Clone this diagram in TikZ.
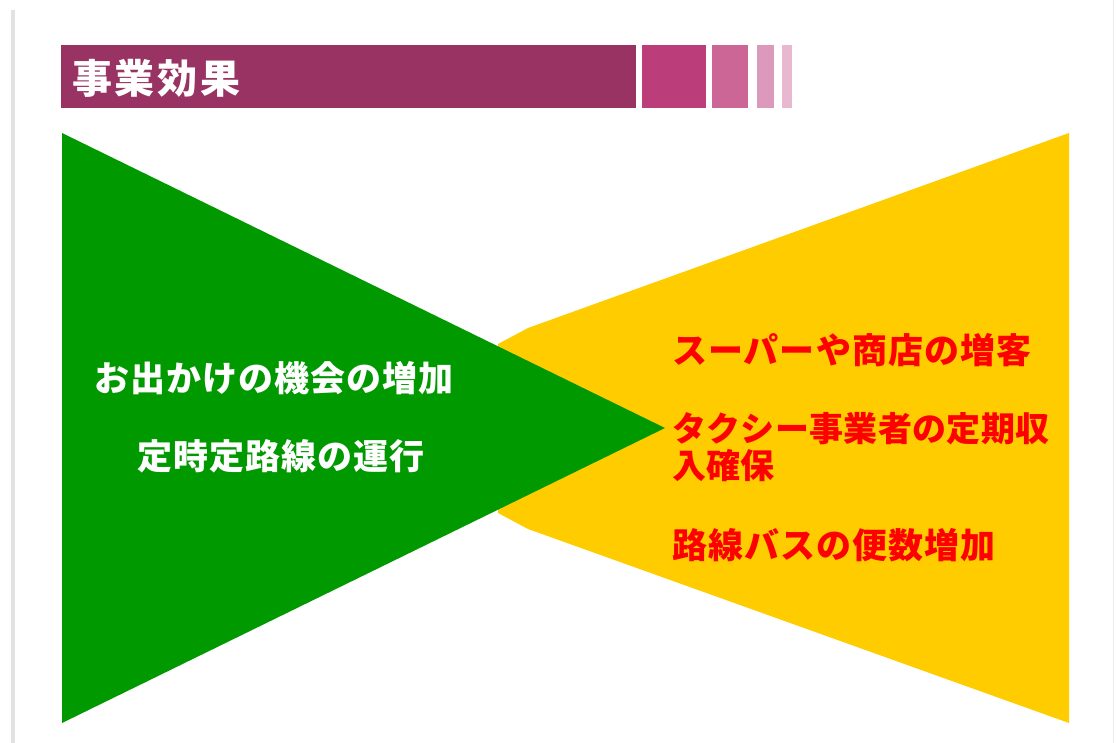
\documentclass[tikz,border=0pt]{standalone}
\usepackage{fontspec}
\newfontfamily\jp{Noto Sans CJK JP}[LetterSpace=3]
\newfontfamily\jphead{Noto Sans CJK JP}[LetterSpace=7]
\newfontfamily\jptight{Noto Sans CJK JP}[LetterSpace=1]
\definecolor{barmain}{RGB}{153,51,99}
\definecolor{barA}{RGB}{187,62,122}
\definecolor{barB}{RGB}{204,102,150}
\definecolor{barC}{RGB}{221,153,187}
\definecolor{barD}{RGB}{232,184,208}
\definecolor{leafgreen}{RGB}{0,153,0}
\definecolor{sunyellow}{RGB}{255,204,0}
\definecolor{edgegray}{RGB}{226,226,226}
\tikzset{
  headtext/.style={inner sep=0pt, anchor=west, text=white, font=\jphead\bfseries\fontsize{40pt}{44pt}\selectfont},
  lefttext/.style={inner sep=0pt, text=white, font=\jp\bfseries\fontsize{35pt}{37pt}\selectfont},
  righttext/.style={inner sep=0pt, anchor=west, align=left, text=red, font=\jp\bfseries\fontsize{35pt}{37pt}\selectfont},
}
\begin{document}
\begin{tikzpicture}[x=1pt,y=-1pt]
\useasboundingbox (0,0) rectangle (1116,743);
\fill[white] (0,0) rectangle (1116,743);
% page edges
\fill[edgegray] (11,10) rectangle (15,743);
\fill[edgegray!70] (1112.5,0) rectangle (1114,743);
% header bar
\fill[barmain] (61,45) rectangle (636,108);
\fill[barA] (642,45) rectangle (706,108);
\fill[barB] (712,45) rectangle (748,108);
\fill[barC] (757,45) rectangle (774,108);
\fill[barD] (782,45) rectangle (792,108);
\node[headtext] (title) at (72,78) {事業効果};
% yellow funnel
\fill[sunyellow] (1069,133) -- (528,328) -- (498,344) -- (498,513) -- (528,529) -- (1069,723) -- cycle;
% green triangle
\fill[leafgreen] (62,133) -- (62,723) -- (665,428) -- cycle;
% left texts
\node[lefttext] (l1) at (274,378) {お出かけの機会の増加};
\node[lefttext] (l2) at (281,456) {定時定路線の運行};
% right texts
\node[righttext] (r1) at (672,350) {スーパーや商店の増客};
\node[righttext, font=\jptight\bfseries\fontsize{34pt}{37pt}\selectfont] (r2) at (672,447) {タクシー事業者の定期収\\入確保};
\node[righttext] (r3) at (672,545) {路線バスの便数増加};
\end{tikzpicture}
\end{document}
